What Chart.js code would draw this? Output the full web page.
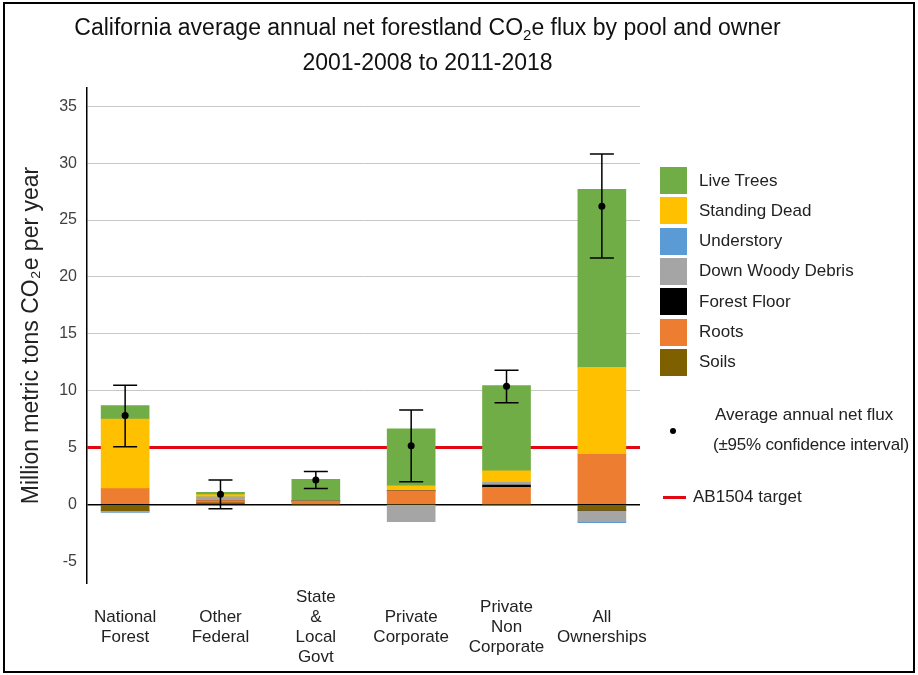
<!DOCTYPE html>
<html>
<head>
<meta charset="utf-8">
<script src="https://cdn.jsdelivr.net/npm/chart.js@4.4.0/dist/chart.umd.min.js"></script>
<style>
  body { margin: 0; background: #fff; font-family: "Liberation Sans", Arial, sans-serif; color: #222; }
  #wrap { position: relative; width: 918px; height: 675px; overflow: hidden; }
  #frame { position: absolute; left: 3px; top: 2px; width: 908px; height: 667px; border: 2px solid #000; pointer-events: none; }
  canvas { position: absolute; left: 0; top: 0; }
  .title { position: absolute; left: 0; width: 855px; text-align: center; font-size: 23px; color: #111; }
  .title sub { font-size: 15px; vertical-align: -5px; line-height: 0; }
  .leg { position: absolute; font-size: 17px; line-height: 20px; color: #222; white-space: nowrap; }
  .sw { position: absolute; left: 660px; width: 27px; height: 27px; }
</style>
</head>
<body>
<div id="wrap">
  <canvas id="chart" width="918" height="675"></canvas>
  <div class="title" style="top:14px">California average annual net forestland CO<sub>2</sub>e flux by pool and owner</div>
  <div class="title" style="top:49px">2001-2008 to 2011-2018</div>
  <div id="legend"></div>
  <div id="frame"></div>
</div>
<script>
const categories = [
    ["National", "Forest"],
    ["Other", "Federal"],
    ["State", "&", "Local", "Govt"],
    ["Private", "Corporate"],
    ["Private", "Non", "Corporate"],
    ["All", "Ownerships"]
];

// million metric tons CO2e per year, one value per owner
const soils = [-0.55, 0.15, 0, 0, 0, -0.5];
const roots = [1.4, 0.2, 0.3, 1.2, 1.5, 4.4];
const forestFloor = [0, 0, 0, 0, 0.2, 0];
const downWoodyDebris = [-0.1, 0.3, 0, -1.5, 0.25, -1.0];
const understory = [-0.05, 0, 0, 0, 0, -0.1];
const standingDead = [6.1, 0.22, 0, 0.45, 1.0, 7.65];
const liveTrees = [1.2, 0.2, 1.9, 5.0, 7.5, 15.65];

const fluxMean = [7.83, 0.9, 2.15, 5.16, 10.4, 26.2];
const fluxLow = [5.07, -0.37, 1.4, 1.99, 8.93, 21.65];
const fluxHigh = [10.47, 2.15, 2.9, 8.3, 11.8, 30.8];

const targetValue = 5;
const yTicks = [-5, 0, 5, 10, 15, 20, 25, 30, 35];

// stacked from the bottom up
const pools = [
    { label: "Soils", data: soils, color: "#7f6000" },
    { label: "Roots", data: roots, color: "#ed7d31" },
    { label: "Forest Floor", data: forestFloor, color: "#000000" },
    { label: "Down Woody Debris", data: downWoodyDebris, color: "#a5a5a5" },
    { label: "Understory", data: understory, color: "#5b9bd5" },
    { label: "Standing Dead", data: standingDead, color: "#ffc000" },
    { label: "Live Trees", data: liveTrees, color: "#70ad47" }
];

const targetLine = {
    id: "targetLine",
    beforeDatasetsDraw(chart) {
        const { ctx, chartArea, scales } = chart;
        const y = scales.y.getPixelForValue(targetValue);
        ctx.save();
        ctx.strokeStyle = "#e30613";
        ctx.lineWidth = 3;
        ctx.beginPath();
        ctx.moveTo(chartArea.left, y);
        ctx.lineTo(chartArea.right, y);
        ctx.stroke();
        ctx.restore();
    }
};

const errorBars = {
    id: "errorBars",
    afterDatasetsDraw(chart) {
        const { ctx, scales } = chart;
        ctx.save();
        ctx.strokeStyle = "#000";
        ctx.fillStyle = "#000";
        ctx.lineWidth = 1.5;
        fluxMean.forEach((m, i) => {
            const x = scales.x.getPixelForValue(i);
            const lo = scales.y.getPixelForValue(fluxLow[i]);
            const hi = scales.y.getPixelForValue(fluxHigh[i]);
            ctx.beginPath();
            ctx.moveTo(x, lo); ctx.lineTo(x, hi);
            ctx.moveTo(x - 12, lo); ctx.lineTo(x + 12, lo);
            ctx.moveTo(x - 12, hi); ctx.lineTo(x + 12, hi);
            ctx.stroke();
            ctx.beginPath();
            ctx.arc(x, scales.y.getPixelForValue(m), 3.5, 0, Math.PI * 2);
            ctx.fill();
        });
        ctx.restore();
    }
};

new Chart(document.getElementById("chart"), {
    type: "bar",
    data: {
        datasets: pools.map(p => ({
            label: p.label,
            data: p.data.map((v, i) => ({ x: i, y: v })),
            backgroundColor: p.color,
            borderWidth: 0,
            barThickness: 48
        }))
    },
    options: {
        responsive: false,
        animation: false,
        layout: { padding: { top: 88, right: 278, left: 0, bottom: 0 } },
        plugins: {
            legend: { display: false },
            tooltip: { enabled: false }
        },
        scales: {
            x: {
                type: "linear",
                stacked: true,
                offset: false,
                min: -0.4,
                max: 5.4,
                afterBuildTicks: axis => { axis.ticks = categories.map((_, i) => ({ value: i })); },
                afterFit: scale => { scale.height = 92; },
                grid: { display: false, drawTicks: false, offset: false },
                border: { display: false },
                ticks: {
                    callback: v => categories[v],
                    autoSkip: false,
                    maxRotation: 0,
                    crossAlign: "center",
                    padding: 14,
                    color: "#222",
                    font: { family: "'Liberation Sans', Arial", size: 17, lineHeight: "20px" }
                }
            },
            y: {
                stacked: true,
                min: -6.9,
                max: 36.6,
                afterBuildTicks: axis => { axis.ticks = yTicks.map(v => ({ value: v })); },
                afterFit: scale => { scale.width = 87; },
                grid: {
                    drawTicks: false,
                    lineWidth: ctx => ctx.tick && ctx.tick.value === 0 ? 1.5 : 1,
                    color: ctx => {
                        const v = ctx.tick ? ctx.tick.value : null;
                        if (v === 0) return "#000";
                        if (v < 0) return "rgba(0,0,0,0)";
                        return "#c8c8c8";
                    }
                },
                border: { display: true, color: "#000", width: 1.5 },
                ticks: {
                    padding: 10,
                    color: "#404040",
                    font: { family: "'Liberation Sans', Arial", size: 16 }
                },
                title: {
                    display: true,
                    text: "Million metric tons CO₂e per year",
                    color: "#222",
                    padding: { top: 18, bottom: 0 },
                    font: { family: "'Liberation Sans', Arial", size: 23 }
                }
            }
        }
    },
    plugins: [targetLine, errorBars]
});

// legend, top row first
const legend = document.getElementById("legend");
pools.slice().reverse().forEach((p, k) => {
    const top = 167 + k * 30.3;
    legend.insertAdjacentHTML("beforeend",
        `<div class="sw" style="top:${top}px;background:${p.color}"></div>` +
        `<div class="leg" style="left:699px;top:${top + 3.5}px">${p.label}</div>`);
});
legend.insertAdjacentHTML("beforeend",
    `<div style="position:absolute;left:670px;top:428px;width:6px;height:6px;border-radius:50%;background:#000"></div>` +
    `<div class="leg" style="left:715px;top:405px">Average annual net flux</div>` +
    `<div class="leg" style="left:713px;top:435px;letter-spacing:-0.2px">(±95% confidence interval)</div>` +
    `<div style="position:absolute;left:663px;top:496px;width:23px;height:3px;background:#e30613"></div>` +
    `<div class="leg" style="left:693px;top:487px">AB1504 target</div>`);
</script>
</body>
</html>
